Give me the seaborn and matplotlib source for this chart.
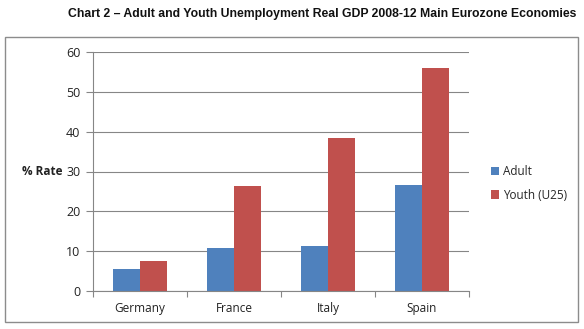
import matplotlib
matplotlib.use("Agg")
import matplotlib.pyplot as plt
from matplotlib.patches import Rectangle
from matplotlib.ticker import FixedLocator
import seaborn as sns
import pandas as pd

countries = ["Germany", "France", "Italy", "Spain"]
series_names = ["Adult", "Youth (U25)"]
adult = [5.4, 10.8, 11.3, 26.6]
youth = [7.6, 26.4, 38.4, 56.0]
yticks = [0, 10, 20, 30, 40, 50, 60]

df = pd.DataFrame({
    "Country": countries * 2,
    "Group": [series_names[0]] * len(countries) + [series_names[1]] * len(countries),
    "Rate": adult + youth,
})

sns.set_theme(style="white")
plt.rcParams["font.family"] = ["Open Sans", "DejaVu Sans"]

W, H = 584, 329
fig = plt.figure(figsize=(W / 100, H / 100), dpi=100)
ax = fig.add_axes([93 / W, 1 - 291 / H, (469 - 93) / W, (291 - 52) / H])

sns.barplot(data=df, x="Country", y="Rate", hue="Group", ax=ax,
            palette=["#4F81BD", "#C0504D"], width=0.57, saturation=1,
            linewidth=0, errorbar=None)

grid_c = "#868686"
ax.set_xlim(-0.5, 3.5)
ax.set_ylim(0, 60)
ax.yaxis.set_major_locator(FixedLocator(yticks))
ax.set_yticklabels([str(v) for v in yticks])
ax.grid(axis="y", color=grid_c, linewidth=0.8)
ax.set_axisbelow(True)
for s in ["top", "right"]:
    ax.spines[s].set_visible(False)
for s in ["left", "bottom"]:
    ax.spines[s].set_color(grid_c)
    ax.spines[s].set_linewidth(0.8)

ax.tick_params(axis="y", length=5, width=0.8, color=grid_c, labelsize=9,
               labelcolor="#222222", pad=4, left=True)
ax.tick_params(axis="x", which="major", length=0, labelsize=8.5,
               labelcolor="#222222", pad=8)
ax.xaxis.set_minor_locator(FixedLocator([-0.5, 0.5, 1.5, 2.5, 3.5]))
ax.tick_params(axis="x", which="minor", length=4, width=0.8, color=grid_c,
               bottom=True)

ax.set_xlabel("")
ax.set_ylabel("% Rate", rotation=0, fontsize=8.5, fontweight="bold",
              color="#222222", ha="right", va="center")
ax.yaxis.set_label_coords(-0.082, 0.5)

ax.legend(loc="center left", bbox_to_anchor=(1.03, 0.45), frameon=False,
          fontsize=8.5, handlelength=0.7, handleheight=0.7,
          handletextpad=0.3, labelspacing=0.9)

fig.patches.append(Rectangle((5 / W, 1 - 322 / H), 573 / W, 285 / H,
                             transform=fig.transFigure, fill=False,
                             edgecolor="#8C8C8C", linewidth=1))

fig.text(322 / W, 1 - 14 / H,
         "Chart 2 \u2013 Adult and Youth Unemployment Real GDP 2008-12 Main Eurozone Economies",
         ha="center", va="center", fontsize=8.8, fontweight="bold",
         family=["Liberation Sans", "DejaVu Sans"], color="#111111")

fig.savefig("out.png", dpi=100, facecolor="white")
